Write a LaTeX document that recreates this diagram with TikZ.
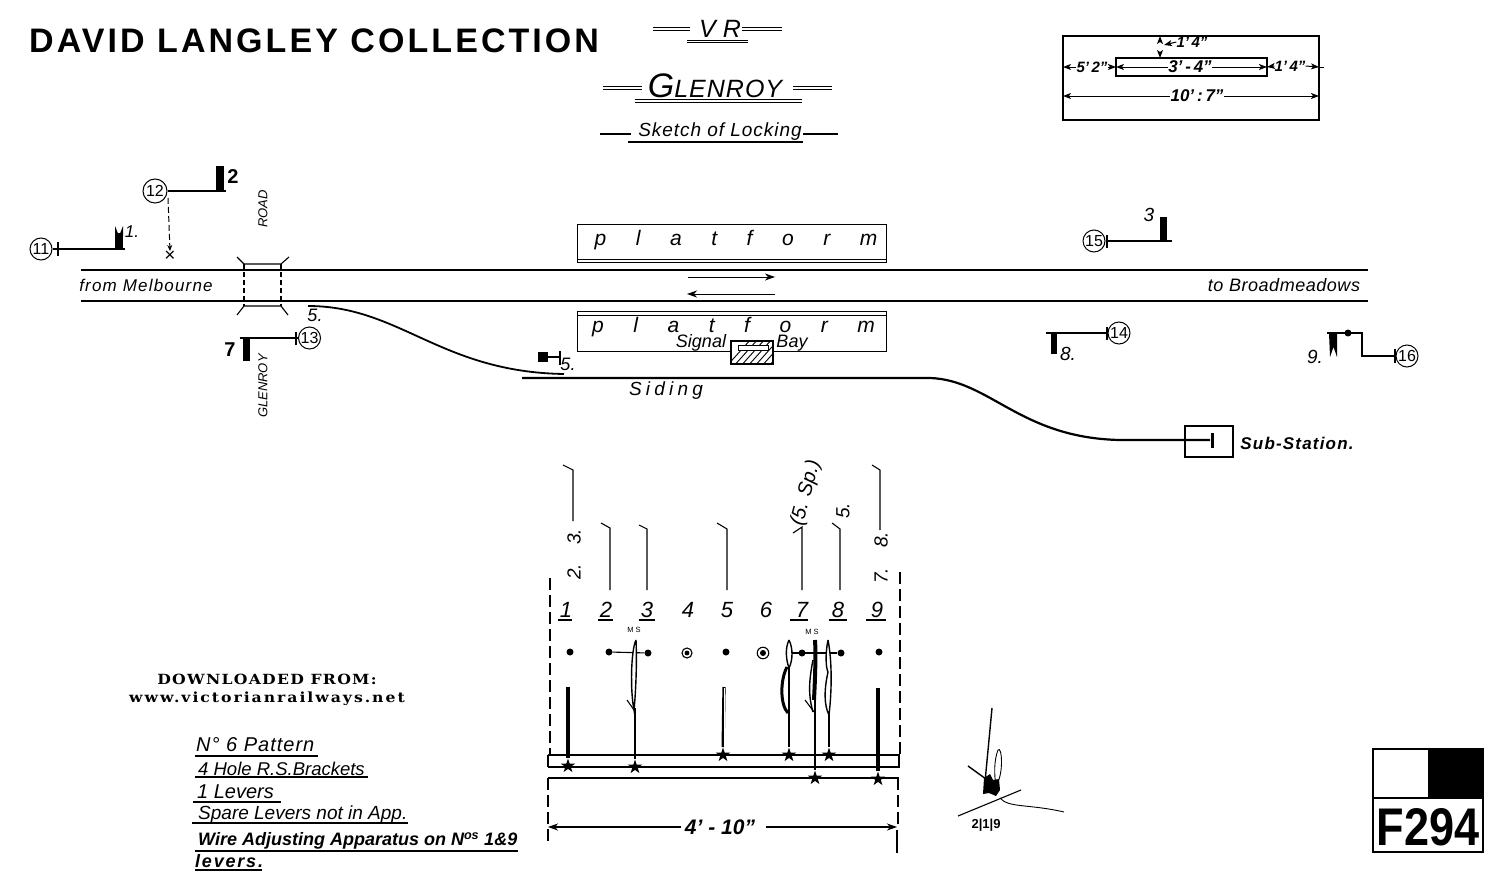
\documentclass[tikz,border=0pt]{standalone}
\usepackage{fontspec}
\usetikzlibrary{arrows.meta,shapes.geometric}
\setmainfont{Liberation Sans}
\newfontfamily\slabfont{DejaVu Serif}
\newcommand{\hs}[1]{\fontsize{#1}{#1}\selectfont\itshape}
\tikzset{
  x=1pt,y=-1pt,
  ring/.style={circle,draw,line width=1pt,minimum size=22pt,inner sep=0pt,font=\fontsize{16}{16}\selectfont},
  post/.style={fill=black,draw=none,inner sep=0pt,minimum width=7.5pt},
  wire/.style={line width=1.1pt},
  rail/.style={line width=1.9pt},
  hand/.style={font=\hs{17},inner sep=0pt},
  dimtext/.style={font=\hs{15}\bfseries,inner sep=0pt},
  num/.style={font=\hs{22},inner sep=0pt},
  rotnum/.style={font=\hs{19},inner sep=0pt,rotate=90},
  dot/.style={circle,fill=black,inner sep=0pt,minimum size=7pt},
  cdot/.style={circle,draw,line width=1.1pt,inner sep=0pt,minimum size=10pt},
  pin/.style={star,star points=5,star point ratio=2.6,fill=black,inner sep=0pt,minimum size=15pt},
  tipL/.style={{Stealth[length=8pt,width=6pt,inset=2pt]}-},
  tipR/.style={-{Stealth[length=8pt,width=6pt,inset=2pt]}},
  dim/.style={line width=1pt},
  oneway/.style={line width=.9pt,-{Stealth[length=10pt,width=7pt,inset=3pt]}},
  under/.style={line width=1.2pt},
  loopy/.style={line width=1.4pt},
  note/.style={anchor=west,inner sep=0pt}
}
\begin{document}
\begin{tikzpicture}
\useasboundingbox (0,0) rectangle (1500,886);
\fill[white] (0,0) rectangle (1500,886);

% headings
\node[inner sep=0pt,anchor=west,font=\fontsize{34}{34}\selectfont\bfseries\addfontfeature{LetterSpace=9}] (title) at (29,41) {DAVID LANGLEY COLLECTION};
\node[inner sep=0pt,font=\hs{25}] (vr) at (720,29) {V R};
\foreach \y in {27,30}{\draw[line width=.8pt] (653,\y)--(690,\y) (742,\y)--(782,\y);}
\foreach \y in {40,42}{\draw[line width=.8pt] (687,\y)--(748,\y);}
\node[inner sep=0pt,font=\hs{25}\addfontfeature{LetterSpace=4}] (glen) at (715,86) {{\fontsize{34}{34}\selectfont G}LENROY};
\foreach \y in {86,89}{\draw[line width=.8pt] (603,\y)--(642,\y) (793,\y)--(832,\y);}
\foreach \y in {99,102}{\draw[line width=.9pt] (635,\y)--(802,\y);}
\node[inner sep=0pt,font=\hs{19}\addfontfeature{LetterSpace=5}] (sk) at (720,132) {Sketch of Locking};
\draw[wire] (600,134)--(631,134) (803,134)--(838,134);
\draw[under] (628,142)--(803,142);

% dimension box
\draw[line width=1.1pt] (1063,36) rectangle (1319,120);
\draw[line width=1.1pt] (1116,58) rectangle (1267,76);
\node[dimtext] (d1) at (1192,42) {1'\,4"};
\coordinate (dA) at (1160,36);\coordinate (dB) at (1160,58);
\draw[dim,tipL] (dA)--(1160,41);\draw[dim,tipR] (1160,52)--(dB);
\draw[dim,tipR] (d1.west)--(1164,45);
\node[dimtext] (d2) at (1092,67) {5'\,2"};
\draw[dim,tipL] (1063,67)--(d2.west);\draw[dim,tipR] (d2.east)--(1116,67);
\node[dimtext,font=\hs{17}\bfseries] (d3) at (1190,67) {3'\,-\,4"};
\draw[dim,tipL] (1116,67)--(d3.west);
\draw[dim,tipR] (d3.east)--(1267,67);
\node[dimtext] (d4) at (1290,66) {1'\,4"};
\draw[dim,tipL] (1267,67)--(d4.west);
\draw[dim,tipR] (d4.east)--(1319,67);
\draw[dim] (1319,67)--(1324,67);
\node[dimtext,font=\hs{17}\bfseries] (d5) at (1197,96) {10'\,:\,7"};
\draw[dim,tipL] (1063,96)--(d5.west);
\draw[dim,tipR] (d5.east)--(1319,96);

% tracks
\draw[rail] (81,270)--(1368,270);
\draw[rail] (81,301)--(1368,301);
\node[hand,font=\hs{17}\addfontfeature{LetterSpace=7}] (from) at (146,285) {from Melbourne};
\node[hand,font=\hs{18}\addfontfeature{LetterSpace=3}] (to) at (1284,285) {to Broadmeadows};

% level crossing
\draw[wire] (237,257)--(244,264)--(281,264)--(289,257);
\draw[wire] (237,315)--(244,306)--(281,306)--(288,315);
\draw[wire,dash pattern=on 5pt off 3pt] (244,264)--(244,306) (281,264)--(281,306);
\node[rotate=90,font=\fontsize{13}{13}\selectfont\itshape,inner sep=0pt] (road) at (263,209) {ROAD};
\node[rotate=90,font=\fontsize{13}{13}\selectfont\itshape,inner sep=0pt] (gl) at (263,386) {GLENROY};

% signal 12
\node[ring,minimum size=24pt] (s12) at (155,191) {12};
\node[post,minimum height=26pt,anchor=north] (p2) at (220,166) {};
\coordinate (e2) at (226,191);
\draw[wire] (s12)--(e2);
\node[font=\fontsize{20}{20}\selectfont\bfseries,inner sep=0pt] (l2) at (233,177) {2};
\coordinate (xm) at (170,256);
\coordinate (ds) at (168,198);
\draw[line width=1pt,dash pattern=on 6pt off 3pt,-{Stealth[length=6pt,width=5pt]}] (ds)--(170,251);
\node[inner sep=0pt,font=\fontsize{19}{19}\selectfont] (xx) at (xm) {×};

% signal 11
\node[ring] (s11) at (41,249) {11};
\draw[wire] (58,242)--(58,256);
\node[post,minimum height=16pt,anchor=south,minimum width=8pt] (p1) at (119,249) {};
\fill (115,236)--(115,226)--(119,236)--(123,226)--(123,236)--cycle;
\coordinate (e1) at (125,249);
\draw[wire] (s11.east)--(e1);
\node[hand] (l1) at (132,232) {1.};

% signal 13
\node[ring] (s13) at (309.5,338) {13};
\draw[wire] (296,332)--(296,345);
\node[post,minimum height=23pt,anchor=north] (p7) at (246.5,338) {};
\coordinate (e7) at (240,338);
\draw[wire] (s13.west)--(e7);
\node[font=\fontsize{20}{20}\selectfont\bfseries,inner sep=0pt] (l7) at (230,350) {7};

% siding
\node[hand,font=\hs{18}] (p5) at (315,315) {5.};
\draw[line width=1.8pt] (308,306) .. controls (400,306) and (440,372) .. (564,374);
\draw[line width=2.2pt] (522,378)--(930,378) .. controls (990,380) and (1020,438) .. (1120,440) -- (1210,440);
\node[hand,font=\hs{19}\addfontfeature{LetterSpace=22}] (sd) at (666,391) {Siding};

% siding stop
\node[fill=black,inner sep=0pt,minimum size=10pt] (stop) at (543,357) {};
\coordinate (stE) at (560,357);
\draw[wire] (stop)--(stE);
\draw[wire] (560,351)--(560,365);
\node[hand,font=\hs{18}] (s5) at (568,364) {5.};

% platforms
\node[draw,line width=1pt,minimum width=309pt,minimum height=38pt,inner sep=0pt] (pl1) at (731.5,243) {};
\draw[line width=.8pt] (577,259)--(886,259);
\node[hand,font=\hs{21}] (plt1) at (736,240) {\makebox[283pt][s]{p\hfill l\hfill a\hfill t\hfill f\hfill o\hfill r\hfill m}};
\node[draw,line width=1pt,minimum width=309pt,minimum height=40pt,inner sep=0pt] (pl2) at (731.5,331) {};
\draw[line width=.8pt] (577,315)--(886,315);
\node[hand,font=\hs{21}] (plt2) at (733.5,327) {\makebox[283pt][s]{p\hfill l\hfill a\hfill t\hfill f\hfill o\hfill r\hfill m}};
\coordinate (a1) at (688,277);\coordinate (a2) at (775,277);
\coordinate (b1) at (775,294);\coordinate (b2) at (687,294);
\draw[oneway] (a1)--(a2);
\draw[oneway] (b1)--(b2);

% signal bay
\node[hand,font=\hs{18}] (sig) at (701,343) {Signal};
\node[hand,font=\hs{18}] (bay) at (792,343) {Bay};
\begin{scope}
\clip (731,341) rectangle (773,364);
\fill[white] (731,341) rectangle (773,364);
\foreach \k in {0,7,...,70}{\draw[line width=.9pt] (725+\k,368)--(725+\k+27,338);}
\end{scope}
\draw[line width=1.8pt] (731,341) rectangle (773,364);
\draw[fill=white,line width=.7pt] (738,345) rectangle (768,350);

% signal 15
\node[ring] (s15) at (1094,241) {15};
\draw[wire] (1107,235)--(1107,248);
\node[post,minimum height=24pt,anchor=south] (p3) at (1163.5,241) {};
\coordinate (e3) at (1172,241);
\draw[wire] (s15.east)--(e3);
\node[hand,font=\hs{19}] (l3) at (1149,215) {3};

% signal 14
\node[ring] (s14) at (1119,333) {14};
\draw[wire] (1107,327)--(1107,340);
\node[post,minimum height=22pt,minimum width=6.5pt,anchor=north] (p8) at (1054,332) {};
\coordinate (e8) at (1046,333);
\draw[wire] (s14.west)--(e8);
\node[hand,font=\hs{19}] (l8) at (1068,354) {8.};

% signal 16
\node[ring] (s16) at (1407,356) {16};
\draw[wire] (1395,349)--(1395,363);
\fill (1327,332) rectangle (1340,334);
\fill (1329,333)--(1337,333)--(1337,357)--(1333.5,347)--(1330,357)--cycle;
\node[dot] (d16) at (1348,333) {};
\coordinate (e9) at (1327,333);
\draw[wire] (s16.west)--(1362,356)--(1362,333)--(e9);
\node[hand,font=\hs{19}] (l9) at (1315,357) {9.};

% sub-station
\node[draw,line width=2pt,minimum width=48pt,minimum height=31pt,inner sep=0pt] (sub) at (1208.5,441) {};
\fill (1211,433) rectangle (1214,448);
\node[hand,font=\hs{17}\bfseries\addfontfeature{LetterSpace=7}] (subt) at (1297,443) {Sub-Station.};

% lever frame
\draw[line width=1.2pt,dash pattern=on 12pt off 5pt] (550,578)--(550,755);
\draw[line width=1.2pt,dash pattern=on 12pt off 5pt] (900,572)--(900,755);
\draw[line width=1.4pt] (548,755)--(899,755)--(899,767)--(548,767);
\draw[line width=1.4pt] (548,767)--(548,755);
\draw[line width=1.6pt] (548,778)--(899,778);
\draw[line width=1.2pt,dash pattern=on 12pt off 5pt] (548,778)--(548,845);
\draw[line width=1.2pt,dash pattern=on 12pt off 5pt] (898,778)--(898,825);
\draw[line width=1.3pt] (897,830)--(897,853);

% lever numbers
\foreach \n/\x/\ua/\ub in {1/566/558/572,2/606/598/613,3/647/639/655,4/688/0/0,5/727/0/0,6/766/0/0,7/802/790/808,8/838/829/847,9/877/866/886}{
  \node[num] (n\n) at (\x,610) {\n};
  \ifnum\ua>0 \draw[line width=1.3pt] (\ua,620)--(\ub,620);\fi
}
% overhead leads
\draw[wire] (563,465)--(573,470)--(573,521);
\draw[wire] (601,523)--(610,528)--(610,590);
\draw[wire] (639,525)--(647,529)--(647,590);
\draw[wire] (717,523)--(727,529)--(727,590);
\draw[wire] (793,533)--(802,527)--(802,590);
\draw[wire] (832,523)--(840,529)--(840,590);
\draw[wire] (872,465)--(880,470)--(880,530);
\node[rotnum] (t3) at (574,537) {3.};
\node[rotnum] (t2) at (574,572) {2.};
\node[rotnum] (t8) at (881,540) {8.};
\node[rotnum] (t7) at (881,576) {7.};
\node[rotnum,font=\hs{20},rotate=-15] (t5s) at (806,493) {(5. Sp.)};
\node[rotnum] (t5) at (843,511) {5.};

% lever dots
\node[dot] (l1d) at (570,652) {};
\node[dot] (l2d) at (609,652) {};
\node[dot] (l3d) at (648,653) {};
\node[cdot] (l4d) at (687,653) {};
\fill (l4d) circle (2.4);
\node[dot] (l5d) at (726,652) {};
\node[cdot,minimum size=11.5pt] (l6d) at (763,653) {};
\fill (l6d) circle (3);
\node[dot] (l7d) at (802,653) {};
\node[dot] (l8d) at (841,653) {};
\node[dot] (l9d) at (879,652) {};
\draw[wire] (l2d)--(l3d);
\coordinate (l7s) at (790,653);
\draw[wire] (l7s)--(l8d);

% pins
\node[pin] (q1) at (568,766) {};
\node[pin] (q3) at (635,767) {};
\node[pin] (q5) at (723,755) {};
\node[pin] (q7) at (789,755) {};
\node[pin] (q8) at (829,755) {};
\node[pin] (q7b) at (815,778) {};
\node[pin] (q9) at (878,779) {};
\coordinate (r1) at (568,687);
\coordinate (r5) at (724,687);
\coordinate (r9) at (878,688);
\draw[line width=3.4pt] (r1)--(q1);
\draw[line width=3.2pt] (r5)--(q5);
\draw[white,line width=.9pt] (724,688)--(724,750);
\draw[line width=3.6pt] (r9)--(q9);

% curved slides
\draw[wire] (635,708)--(q3);
\draw[loopy,fill=white] (636,640) .. controls (631,650) and (630,690) .. (634,710) .. controls (636,690) and (637,660) .. (636,640);
\draw[wire] (627,700)--(634,710);
\node[font=\fontsize{7.5}{7.5}\selectfont,inner sep=0pt] (ms1) at (634,630) {M S};
\draw[wire] (789,667)--(q7);
\draw[loopy,fill=white] (789,640) .. controls (785,648) and (786,660) .. (789,668) .. controls (793,660) and (793,648) .. (789,640);
\draw[line width=3pt] (787,667) .. controls (780,680) and (780,705) .. (788,713);
\draw[line width=1.2pt] (789,668)--(789,713);
\node[font=\fontsize{7.5}{7.5}\selectfont,inner sep=0pt] (ms2) at (812,632) {M S};
\draw[wire] (815,690)--(q7b);
\draw[line width=4pt] (815,640) .. controls (816,655) and (815,680) .. (814,700);
\draw[line width=1.4pt] (813,660) .. controls (809,680) and (808,695) .. (813,712);
\draw[wire] (805,700)--(814,712);
\draw[wire] (829,713)--(q8);
\draw[loopy,fill=white] (828,640) .. controls (825,655) and (826,668) .. (828,672) .. controls (824,690) and (824,705) .. (829,715) .. controls (832,690) and (832,660) .. (828,640);

% overall dimension
\node[hand,font=\hs{21}\bfseries] (dm) at (720,827) {4' - 10"};
\coordinate (dl) at (548,827);\coordinate (dr) at (897,827);
\draw[line width=1.1pt,{Stealth[length=10pt,width=7pt,inset=3pt]}-] (dl)--(681,827);
\draw[line width=1.1pt,-{Stealth[length=10pt,width=7pt,inset=3pt]}] (766,827)--(dr);

% download notice
\node[inner sep=0pt,font=\fontsize{14}{14}\selectfont\slabfont\bfseries\addfontfeature{FakeStretch=1.12,LetterSpace=9}] (dl1) at (267,679) {DOWNLOADED FROM:};
\node[inner sep=0pt,font=\fontsize{14}{14}\selectfont\slabfont\bfseries\addfontfeature{FakeStretch=1.12,LetterSpace=14}] (dl2) at (267,699) {www.victorianrailways.net};

% notes
\node[note,font=\hs{20}\addfontfeature{LetterSpace=5}] (nt1) at (196,745) {N° 6 Pattern};
\draw[under] (195,756)--(318,756);
\node[note,font=\hs{18.5}] (nt2) at (198,769) {4 Hole R.S.Brackets};
\draw[under] (195,777)--(368,777);
\node[note,font=\hs{20}] (nt3) at (197,792) {1 Levers};
\draw[under] (193,802)--(281,802);
\node[note,font=\hs{19}] (nt4) at (198,815) {Spare Levers not in App.};
\draw[under] (192,823)--(408,823);
\node[note,font=\hs{18}\bfseries] (nt5) at (198,841) {Wire Adjusting Apparatus on N\textsuperscript{os} 1\&9};
\draw[under] (195,851)--(518,851);
\node[note,font=\hs{18}\bfseries\addfontfeature{LetterSpace=10}] (nt6) at (195,861) {levers.};
\draw[under,line width=1.5pt] (195,870)--(262,870);

% signature
\draw[line width=1.4pt] (992,708)--(985,782);
\draw[line width=.9pt] (998,750) .. controls (1002,745) and (1004,775) .. (996,785) .. controls (994,775) and (994,760) .. (998,750);
\draw[line width=1.4pt] (968,766)--(986,779);
\fill (984,778)--(990,774)--(993,780)--(999,779)--(1000,790)--(996,796)--(989,793)--(983,794)--cycle;
\draw[line width=1.1pt] (958,816)--(1021,790);
\draw[line width=.9pt] (1000,798) .. controls (1008,808) and (1030,804) .. (1064,812);
\node[inner sep=0pt,font=\fontsize{13}{13}\selectfont\bfseries] (date) at (986,825) {2|1|9};

% stamp
\draw[line width=1.6pt] (1373,749) rectangle (1483,852);
\fill (1428,749) rectangle (1483,798);
\draw[line width=1.6pt] (1373,798)--(1483,798);
\node[inner sep=0pt,font=\fontsize{53}{53}\selectfont\bfseries\addfontfeature{FakeStretch=.85}] (f) at (1428,827) {F294};
\end{tikzpicture}
\end{document}
